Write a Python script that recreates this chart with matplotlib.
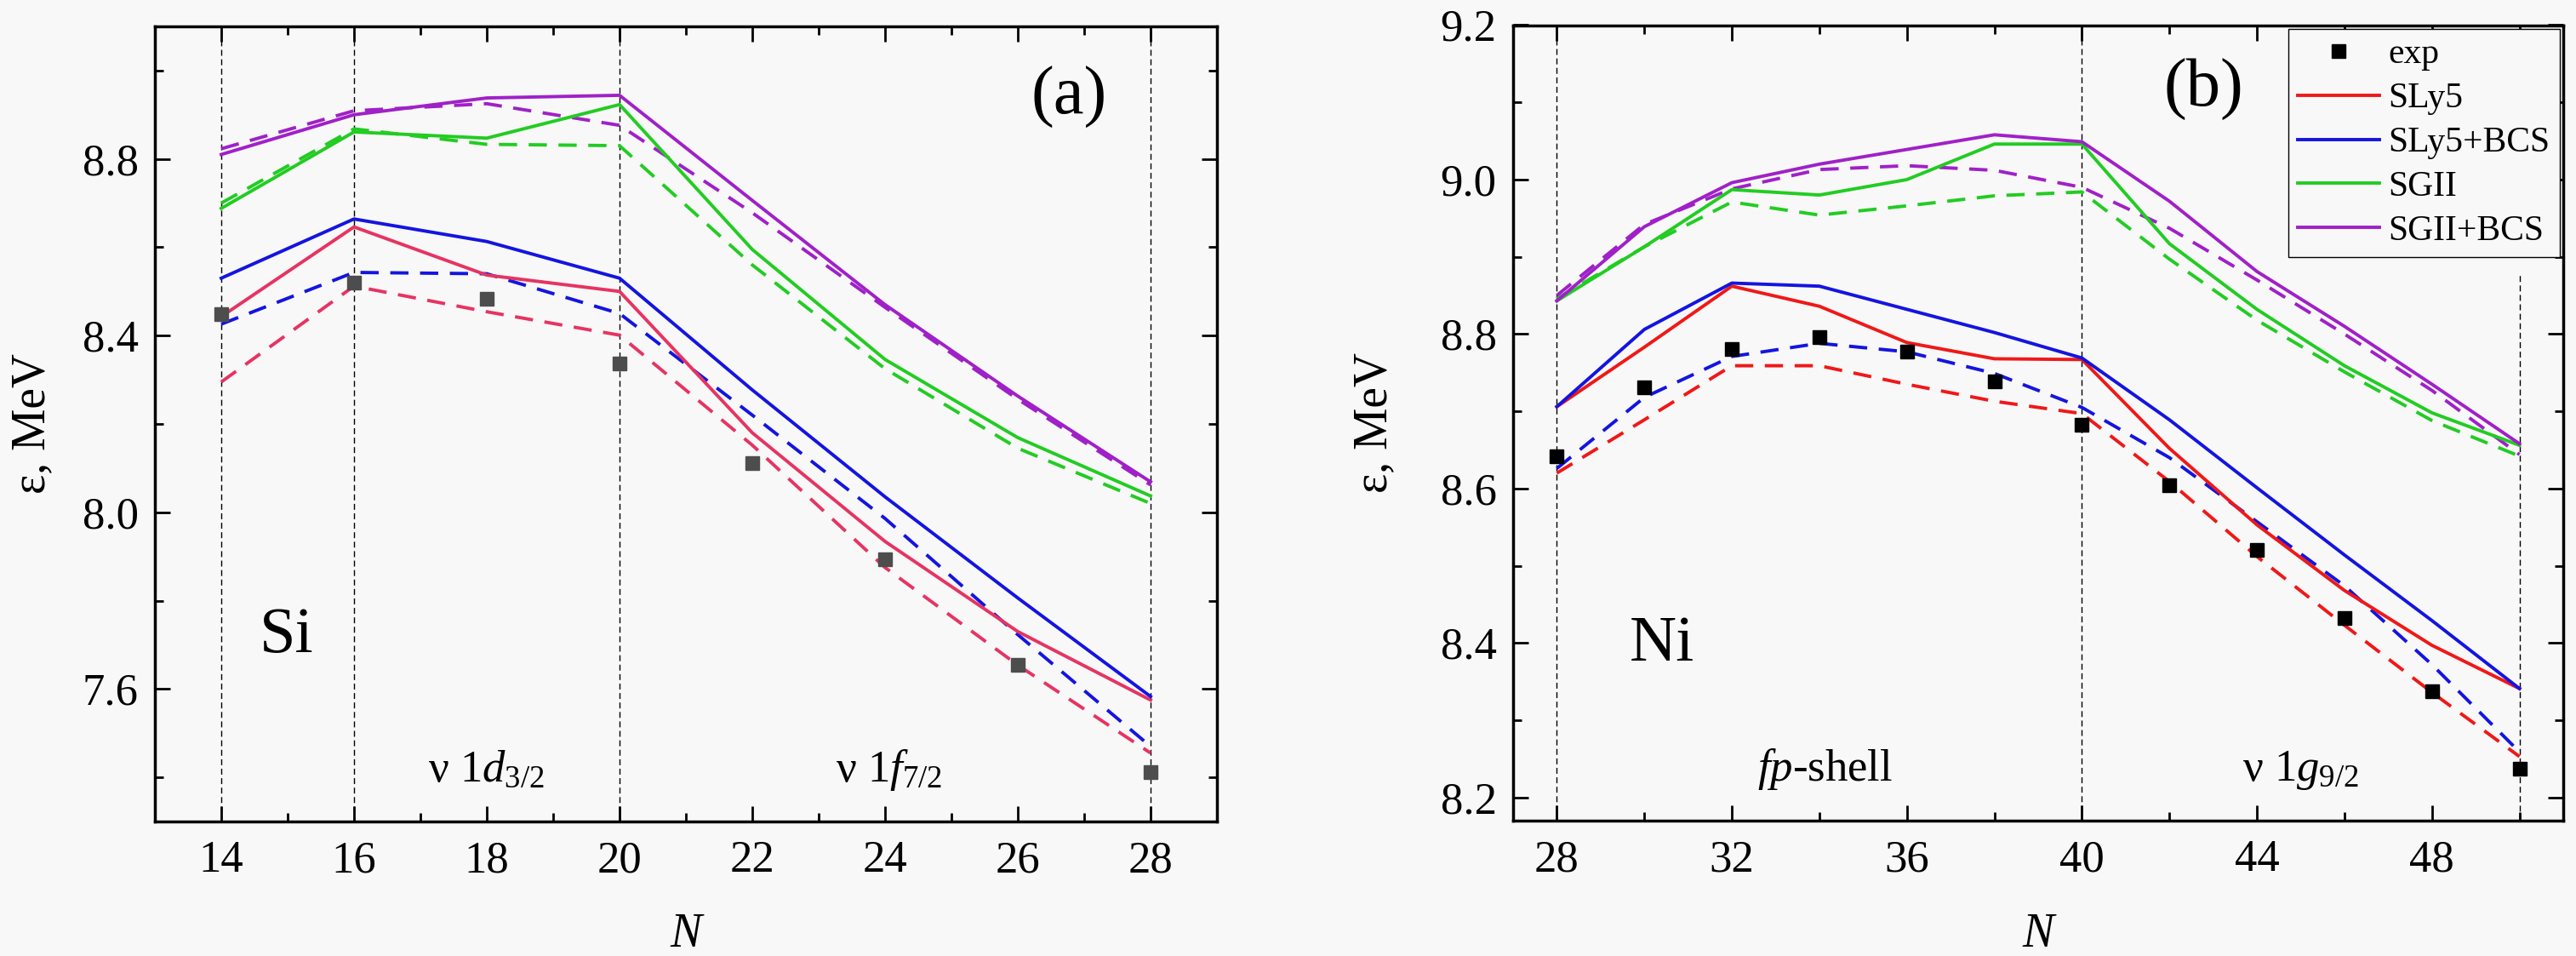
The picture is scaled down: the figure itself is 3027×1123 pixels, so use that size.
import numpy as np
import matplotlib
matplotlib.use('Agg')
import matplotlib.pyplot as plt
from matplotlib.ticker import MultipleLocator, FormatStrFormatter

# ---- data: Si isotopes (panel a) ----
si_n = [14, 16, 18, 20, 22, 24, 26, 28]
si_exp = [8.448, 8.519, 8.483, 8.336, 8.111, 7.893, 7.654, 7.411]
si_sly5 = [8.443, 8.646, 8.537, 8.500, 8.180, 7.934, 7.730, 7.575]
si_sly5_bcs = [8.530, 8.664, 8.613, 8.530, 8.277, 8.035, 7.806, 7.583]
si_sgii = [8.688, 8.861, 8.847, 8.923, 8.595, 8.346, 8.169, 8.037]
si_sgii_bcs = [8.810, 8.900, 8.938, 8.944, 8.706, 8.470, 8.263, 8.069]
si_sly5_d = [8.295, 8.512, 8.454, 8.401, 8.152, 7.875, 7.654, 7.455]
si_sly5_bcs_d = [8.426, 8.543, 8.540, 8.450, 8.220, 7.986, 7.723, 7.470]
si_sgii_d = [8.700, 8.868, 8.833, 8.830, 8.560, 8.325, 8.145, 8.020]
si_sgii_bcs_d = [8.823, 8.909, 8.925, 8.876, 8.678, 8.464, 8.256, 8.062]

# ---- data: Ni isotopes (panel b) ----
ni_n = [28, 30, 32, 34, 36, 38, 40, 42, 44, 46, 48, 50]
ni_exp = [8.642, 8.731, 8.781, 8.796, 8.777, 8.739, 8.682, 8.604, 8.520, 8.432, 8.338, 8.237]
ni_sly5 = [8.706, 8.783, 8.862, 8.836, 8.789, 8.768, 8.767, 8.652, 8.553, 8.468, 8.397, 8.341]
ni_sly5_bcs = [8.706, 8.806, 8.866, 8.862, 8.832, 8.802, 8.769, 8.689, 8.601, 8.514, 8.429, 8.341]
ni_sgii = [8.843, 8.913, 8.987, 8.980, 9.000, 9.046, 9.046, 8.917, 8.832, 8.759, 8.698, 8.656]
ni_sgii_bcs = [8.843, 8.939, 8.996, 9.020, 9.039, 9.058, 9.049, 8.972, 8.881, 8.810, 8.735, 8.658]
ni_sly5_d = [8.620, 8.689, 8.759, 8.759, 8.735, 8.713, 8.697, 8.609, 8.512, 8.423, 8.336, 8.253]
ni_sly5_bcs_d = [8.626, 8.718, 8.771, 8.788, 8.777, 8.749, 8.705, 8.640, 8.557, 8.474, 8.372, 8.259]
ni_sgii_d = [8.846, 8.913, 8.971, 8.954, 8.966, 8.979, 8.984, 8.897, 8.818, 8.751, 8.688, 8.642]
ni_sgii_bcs_d = [8.850, 8.942, 8.988, 9.013, 9.018, 9.012, 8.990, 8.937, 8.870, 8.800, 8.727, 8.644]

# shell closures / vertical guides
si_shells = [14, 16, 20, 28]
ni_shells = [28, 40]

plt.rcParams['font.family'] = ['Liberation Serif', 'DejaVu Serif']
plt.rcParams['mathtext.fontset'] = 'custom'
plt.rcParams['mathtext.rm'] = 'Liberation Serif'
plt.rcParams['mathtext.it'] = 'Liberation Serif:italic'

BG = '#f8f8f8'
BLUE = '#1414e0'
GREEN = '#22cc22'
PURPLE = '#a020c8'
LW = 2.8
DASH = (5.5, 3.5)

fig = plt.figure(figsize=(30.27, 11.23), dpi=100, facecolor=BG)
ax1 = fig.add_axes([182 / 3027, 158 / 1123, 1248 / 3027, 934 / 1123])
ax2 = fig.add_axes([1778 / 3027, 159 / 1123, 1234 / 3027, 934.5 / 1123])


def style_axes(ax):
    ax.set_facecolor(BG)
    for sp in ax.spines.values():
        sp.set_linewidth(2.5)
    ax.tick_params(which='both', direction='in', top=True, right=True,
                   width=2.0, labelsize=38)
    ax.tick_params(which='major', length=13)
    ax.tick_params(which='minor', length=7)
    ax.tick_params(axis='x', pad=16)
    ax.tick_params(axis='y', pad=14)
    ax.yaxis.set_major_formatter(FormatStrFormatter('%.1f'))


def draw_panel(ax, n, exp, sly5, sly5_bcs, sgii, sgii_bcs,
               sly5_d, sly5_bcs_d, sgii_d, sgii_bcs_d, red, exp_color):
    # dashed curves first
    for vals, c in [(sly5_d, red), (sly5_bcs_d, BLUE), (sgii_d, GREEN), (sgii_bcs_d, PURPLE)]:
        ax.plot(n, vals, color=c, lw=LW, dashes=DASH, zorder=3)
    ax.plot(n, sly5, color=red, lw=LW, label='SLy5', zorder=4)
    ax.plot(n, sly5_bcs, color=BLUE, lw=LW, label='SLy5+BCS', zorder=4)
    ax.plot(n, sgii, color=GREEN, lw=LW, label='SGII', zorder=4)
    ax.plot(n, sgii_bcs, color=PURPLE, lw=LW, label='SGII+BCS', zorder=4)
    ax.plot(n, exp, ls='none', marker='s', ms=12, color=exp_color,
            label='exp', zorder=5)


# ---- panel (a): Si ----
style_axes(ax1)
for x in si_shells:
    ax1.axvline(x, color='black', lw=1.0, dashes=(5, 3), zorder=1)
draw_panel(ax1, si_n, si_exp, si_sly5, si_sly5_bcs, si_sgii, si_sgii_bcs,
           si_sly5_d, si_sly5_bcs_d, si_sgii_d, si_sgii_bcs_d,
           red='#e63462', exp_color='#4d4d4d')
ax1.set_xlim(13, 29)
ax1.set_ylim(7.3, 9.1)
ax1.xaxis.set_major_locator(MultipleLocator(2))
ax1.xaxis.set_minor_locator(MultipleLocator(1))
ax1.yaxis.set_major_locator(MultipleLocator(0.4))
ax1.yaxis.set_minor_locator(MultipleLocator(0.2))
ax1.set_xlabel('N', fontsize=40, fontstyle='italic')
ax1.set_ylabel('ε, MeV', fontsize=40)
ax1.xaxis.set_label_coords(0.5, -0.1146)
ax1.yaxis.set_label_coords(-0.0946, 0.5)
ax1.text(26.77, 8.94, '(a)', fontsize=58, ha='center', va='center')
ax1.text(14.57, 7.683, 'Si', fontsize=55, va='baseline')
ax1.text(17.12, 7.391, 'ν 1$\\mathit{d}_{\\mathrm{3/2}}$', fontsize=38, va='baseline')
ax1.text(23.25, 7.391, 'ν 1$\\mathit{f}_{\\mathrm{7/2}}$', fontsize=38, va='baseline')

# ---- panel (b): Ni ----
style_axes(ax2)
for x in ni_shells:
    ax2.axvline(x, color='black', lw=1.0, dashes=(5, 3), zorder=1)
ax2.axvline(50, ymax=(8.88 - 8.17) / (9.2 - 8.17), color='black', lw=1.0,
            dashes=(5, 3), zorder=1)
draw_panel(ax2, ni_n, ni_exp, ni_sly5, ni_sly5_bcs, ni_sgii, ni_sgii_bcs,
           ni_sly5_d, ni_sly5_bcs_d, ni_sgii_d, ni_sgii_bcs_d,
           red='#f01818', exp_color='black')
ax2.set_xlim(27, 51)
ax2.set_ylim(8.17, 9.2)
ax2.xaxis.set_major_locator(MultipleLocator(4))
ax2.xaxis.set_minor_locator(MultipleLocator(2))
ax2.yaxis.set_major_locator(MultipleLocator(0.2))
ax2.yaxis.set_minor_locator(MultipleLocator(0.1))
ax2.set_xlabel('N', fontsize=40, fontstyle='italic')
ax2.set_ylabel('ε, MeV', fontsize=40)
ax2.xaxis.set_label_coords(0.5, -0.1156)
ax2.yaxis.set_label_coords(-0.111, 0.5)
ax2.text(42.78, 9.116, '(b)', fontsize=58, ha='center', va='center')
ax2.text(29.65, 8.377, 'Ni', fontsize=55, va='baseline')
ax2.text(32.58, 8.222, '$\\mathit{fp}$-shell', fontsize=38, va='baseline')
ax2.text(43.67, 8.222, 'ν 1$\\mathit{g}_{\\mathrm{9/2}}$', fontsize=38, va='baseline')

handles, labels = ax2.get_legend_handles_labels()
order = [labels.index(k) for k in ['exp', 'SLy5', 'SLy5+BCS', 'SGII', 'SGII+BCS']]
leg = ax2.legend([handles[i] for i in order], [labels[i] for i in order],
                 loc='upper right', fontsize=30, frameon=True, fancybox=False,
                 framealpha=1, facecolor=BG, edgecolor='black', numpoints=1,
                 borderaxespad=0.1, borderpad=0.27, labelspacing=0.32,
                 handlelength=2.3, handletextpad=0.25)
leg.get_frame().set_linewidth(1.0)
leg.set_zorder(10)

fig.savefig('out.png', dpi=100, facecolor=BG)
